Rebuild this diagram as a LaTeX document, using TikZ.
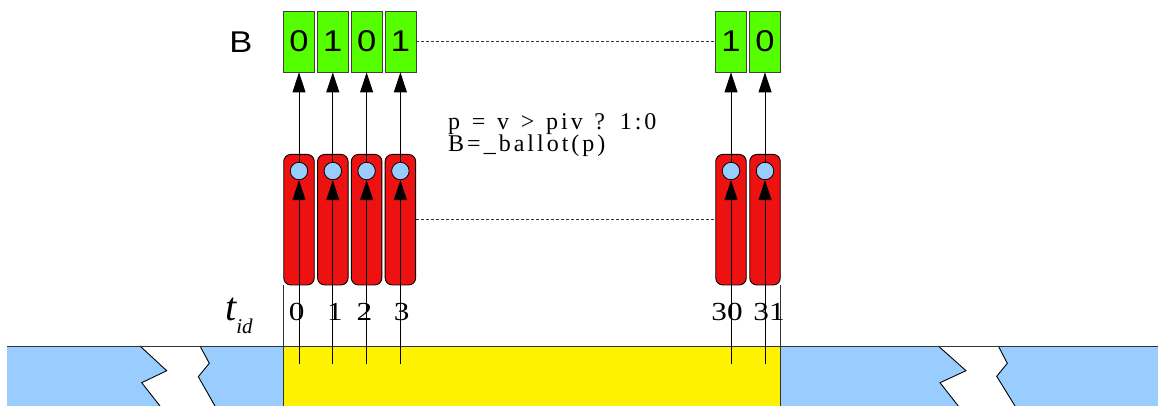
\documentclass[tikz,border=0pt]{standalone}
\usepackage{fontspec}
\setmainfont{Liberation Serif}
\setsansfont{Liberation Sans}
\newfontfamily\codefont[LetterSpace=12.5,WordSpace=1.3]{Liberation Serif}
\usetikzlibrary{arrows.meta}
\definecolor{bitgreen}{RGB}{85,255,0}
\definecolor{capred}{RGB}{238,17,17}
\definecolor{dotblue}{RGB}{153,204,255}
\definecolor{bandblue}{RGB}{153,204,255}
\begin{document}
\begin{tikzpicture}[x=1pt,y=-1pt,
  bitbox/.style={draw=black!75, fill=bitgreen, minimum width=31pt, minimum height=61pt, inner sep=0pt, line width=0.8pt,
    font=\sffamily\fontsize{30}{30}\selectfont},
  capsule/.style={draw=black, fill=capred, rounded corners=7pt, minimum width=30.5pt, minimum height=130.5pt, inner sep=0pt, line width=0.9pt},
  dot/.style={circle, draw=black, fill=dotblue, minimum size=17.5pt, inner sep=0pt, line width=0.8pt},
  arr/.style={-{Triangle[length=20pt,width=13pt]}, line width=0.9pt},
  tidnum/.style={anchor=base, inner sep=0pt, font=\fontsize{26}{26}\selectfont},
  guide/.style={dashed, dash pattern=on 3pt off 2pt, line width=0.6pt, draw=black!80},
  edge/.style={line width=0.8pt, draw=black!80},
  code/.style={anchor=base west, inner sep=0pt, font=\codefont\fontsize{24}{24}\selectfont}
]
\useasboundingbox (0,0) rectangle (1158,406);

% bands
\fill[bandblue] (7.3,346) rectangle (283.3,406);
\fill[yellow] (283.3,346) rectangle (780,406);
\fill[bandblue] (780,346) rectangle (1158,406);
% breaks
\fill[white] (140,346) -- (166.7,370.7) -- (141.7,382.7) -- (160,406) -- (215,406) -- (198.3,376.7) -- (209.3,363.3) -- (200,346) -- cycle;
\draw[line width=0.9pt] (140,346) -- (166.7,370.7) -- (141.7,382.7) -- (160,406);
\draw[line width=0.9pt] (200,346) -- (209.3,363.3) -- (198.3,376.7) -- (215,406);
\fill[white] (938.3,346) -- (966,370.7) -- (940,382.7) -- (958.3,406) -- (1015,406) -- (996.7,376.3) -- (1007.3,363.3) -- (998.3,346) -- cycle;
\draw[line width=0.9pt] (938.3,346) -- (966,370.7) -- (940,382.7) -- (958.3,406);
\draw[line width=0.9pt] (998.3,346) -- (1007.3,363.3) -- (996.7,376.3) -- (1015,406);
\draw[edge] (7.3,346) -- (1158,346);
\draw[edge] (283.3,285) -- (283.3,406);
\draw[edge] (780,285) -- (780,406);

% label B
\node[inner sep=0pt, font=\sffamily\fontsize{30}{30}\selectfont] (lb) at (241,42.5) {\scalebox{1.15}[1]{B}};

% thread columns
\foreach \i/\x/\v in {0/299/0, 1/332.8/1, 2/366.6/0, 3/400.4/1, 30/731/1, 31/765/0} {
  \node[bitbox] (g\i) at (\x,41.5) {\scalebox{1.15}[1]{\v}};
  \node[capsule] (c\i) at (\x,219.7) {};
  \node[dot] (d\i) at (\x,171) {};
  \coordinate (s\i) at (\x,364);
  \draw[arr] (s\i) -- (d\i.south);
  \draw[arr] (d\i.north) -- (g\i.south);
}

\draw[guide] (g3.east) -- (g30.west);
\draw[guide] (c3.east) -- (c30.west);

% thread ids
\node[tidnum] (n0) at (296.7,320.7) {\scalebox{1.2}[1]{0}};
\node[tidnum] (n1) at (335,320.7) {\scalebox{1.2}[1]{1}};
\node[tidnum] (n2) at (364.3,320.7) {\scalebox{1.2}[1]{2}};
\node[tidnum] (n3) at (401.7,320.7) {\scalebox{1.2}[1]{3}};
\node[tidnum] (n30) at (727,320.7) {\scalebox{1.2}[1]{30}};
\node[tidnum] (n31) at (769,320.7) {\scalebox{1.2}[1]{31}};

\node[anchor=base west, inner sep=0pt] (tid) at (225,320.7)
  {{\fontsize{40}{40}\selectfont\itshape t}\raisebox{-12.5pt}{\fontsize{21}{21}\selectfont\itshape id}};

% code
\node[code] (code1) at (448,130) {p = v > piv ? 1:0};
\node[code] (code2) at (448,152) {B=\_ballot(p)};
\end{tikzpicture}
\end{document}
